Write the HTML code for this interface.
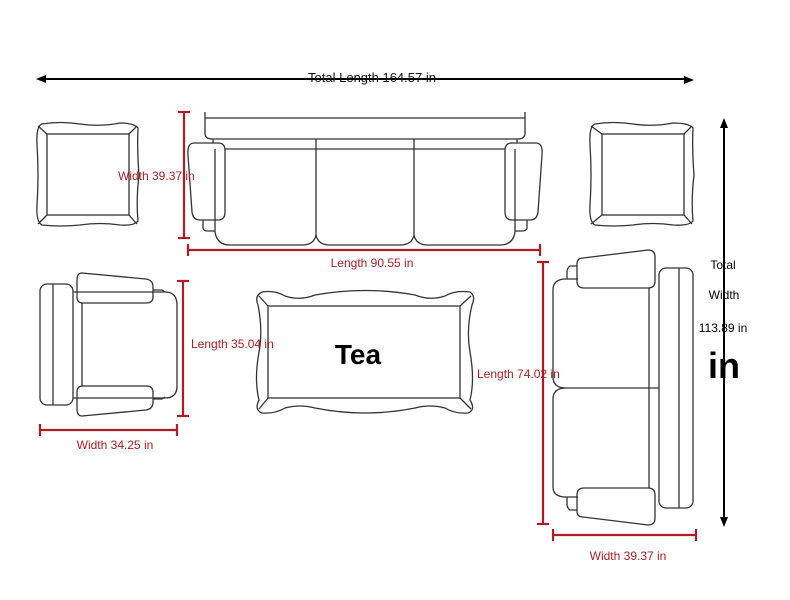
<!DOCTYPE html>
<html><head><meta charset="utf-8"><style>
html,body{margin:0;padding:0;background:#fff;}
svg{display:block;font-family:"Liberation Sans",sans-serif;}
</style></head><body>
<svg width="790" height="600" viewBox="0 0 790 600" xmlns="http://www.w3.org/2000/svg">
<rect width="790" height="600" fill="#fff"/>
<!-- top arrow -->
<line x1="46" y1="79" x2="684" y2="79" stroke="#000" stroke-width="2"/>
<path d="M36,79 L46,75 L46,83 z" fill="#000"/>
<path d="M694,80 L684,76 L684,84 z" fill="#000"/>
<text x="372" y="82" font-size="13" text-anchor="middle" fill="#111">Total Length 164.57 in</text>

<g fill="none" stroke="#333" stroke-width="1.3">
<!-- end tables -->
<path d="M42,124 Q60,121 80,124 Q100,127 120,123 Q134,123 138,128 Q137,150 139,175 Q136,200 138,221 Q134,226 120,225 Q100,222 80,225 Q60,227 42,225 Q36,222 37,205 Q39,175 37,145 Q36,126 42,124 z"/>
<rect x="47" y="134" width="82" height="81"/>
<line x1="38" y1="126" x2="47" y2="134"/><line x1="137" y1="126" x2="129" y2="134"/>
<line x1="38" y1="224" x2="47" y2="215"/><line x1="137" y1="224" x2="129" y2="215"/>
<path d="M595,124 Q613,121 633,124 Q653,127 673,123 Q689,123 693,128 Q692,150 694,175 Q691,200 693,221 Q689,226 673,225 Q653,222 633,225 Q613,227 595,225 Q589,222 590,205 Q592,175 590,145 Q589,126 595,124 z"/>
<rect x="602" y="134" width="82" height="81"/>
<line x1="591" y1="126" x2="602" y2="134"/><line x1="692" y1="126" x2="684" y2="134"/>
<line x1="591" y1="224" x2="602" y2="215"/><line x1="692" y1="224" x2="684" y2="215"/>

<!-- top sofa -->
<path d="M205,112 L205,133 Q205,139 212,139 L518,139 Q525,139 525,133 L525,112"/>
<line x1="205" y1="118" x2="525" y2="118"/>
<line x1="225" y1="149" x2="505" y2="149"/>
<path d="M215,149 L215,232 Q217,245 230,245 L302,245 Q314,245 316,235 Q318,245 330,245 L400,245 Q412,245 414,235 Q416,245 428,245 L500,245 Q513,245 515,232 L515,149"/>
<line x1="316" y1="139" x2="316" y2="235"/><line x1="414" y1="139" x2="414" y2="235"/>
<line x1="213" y1="139" x2="213" y2="143"/><line x1="517" y1="139" x2="517" y2="143"/>
<path d="M194,143 L218,143 Q225,143 225,150 L225,212 Q225,220 218,220 L200,220 Q193,220 192,212 L188,155 Q187,143 194,143 z"/>
<path d="M536,143 L512,143 Q505,143 505,150 L505,212 Q505,220 512,220 L530,220 Q537,220 538,212 L542,155 Q543,143 536,143 z"/>
<path d="M203,220 L203,228 Q203,231 208,231 L215,231"/>
<path d="M527,220 L527,228 Q527,231 522,231 L515,231"/>

<!-- left chair -->
<rect x="40" y="284" width="33" height="121" rx="7"/>
<line x1="53" y1="284" x2="53" y2="405"/>
<path d="M73,292 L165,292 Q177,292 177,305 L177,386 Q177,398 165,398 L73,398"/>
<line x1="82" y1="303" x2="82" y2="386"/>
<path d="M82,273 L146,279 Q153,280 153,287 L153,297 Q153,303 146,303 L83,303 Q77,303 77,297 L77,280 Q77,273 82,273 z"/>
<path d="M82,416 L146,410 Q153,409 153,402 L153,392 Q153,386 146,386 L83,386 Q77,386 77,392 L77,409 Q77,416 82,416 z"/>
<path d="M153,290 L162,290 L165,292"/><path d="M153,399 L162,399 L165,397"/>

<!-- coffee table -->
<path d="M262,292 Q275,290 285,296 Q300,301 315,295 Q365,286 415,295 Q430,301 445,296 Q455,290 470,292 Q476,296 472,305 Q466,330 470,352 Q475,380 470,400 Q476,410 468,413 Q455,414 445,408 Q430,404 415,408 Q365,418 315,408 Q300,404 285,408 Q275,414 262,413 Q254,410 259,400 Q254,380 259,352 Q263,330 258,305 Q254,296 262,292 z"/>
<rect x="268" y="306" width="192" height="92"/>
<line x1="259" y1="296" x2="268" y2="306"/><line x1="471" y1="296" x2="460" y2="306"/>
<line x1="259" y1="409" x2="268" y2="398"/><line x1="471" y1="409" x2="460" y2="398"/>

<!-- right sofa -->
<path d="M659,388 L566,388 Q553,388 553,377 L553,290 Q553,279 566,279 L578,279"/>
<path d="M566,388 Q553,388 553,399 L553,487 Q553,497 566,497 L578,497"/>
<line x1="649" y1="288" x2="649" y2="488"/>
<rect x="659" y="268" width="34" height="240" rx="7"/>
<line x1="679" y1="268" x2="679" y2="508"/>
<path d="M583,258 L648,250 Q655,250 655,257 L655,281 Q655,288 648,288 L584,288 Q577,288 577,281 L577,264 Q577,258 583,258 z"/>
<path d="M583,517 L648,525 Q655,525 655,518 L655,495 Q655,488 648,488 L584,488 Q577,488 577,495 L577,511 Q577,517 583,517 z"/>
<path d="M577,266 L570,266 Q567,268 567,272 L567,279"/>
<path d="M577,510 L570,510 Q567,508 567,504 L567,497"/>
</g>

<!-- red dims -->
<g stroke="#b01c22" stroke-width="2.2" fill="none">
<line x1="184" y1="112" x2="184" y2="238"/><line x1="178" y1="112" x2="190" y2="112"/><line x1="178" y1="238" x2="190" y2="238"/>
<line x1="188" y1="250" x2="540" y2="250"/><line x1="188" y1="244" x2="188" y2="256"/><line x1="540" y1="244" x2="540" y2="256"/>
<line x1="183" y1="281" x2="183" y2="416"/><line x1="177" y1="281" x2="189" y2="281"/><line x1="177" y1="416" x2="189" y2="416"/>
<line x1="40" y1="430" x2="177" y2="430"/><line x1="40" y1="424" x2="40" y2="436"/><line x1="177" y1="424" x2="177" y2="436"/>
<line x1="543" y1="262" x2="543" y2="524"/><line x1="537" y1="262" x2="549" y2="262"/><line x1="537" y1="524" x2="549" y2="524"/>
<line x1="553" y1="535" x2="696" y2="535"/><line x1="553" y1="529" x2="553" y2="541"/><line x1="696" y1="529" x2="696" y2="541"/>
</g>
<g fill="#b01c22" font-size="12">
<text x="118" y="180">Width 39.37 in</text>
<text x="372" y="267" text-anchor="middle">Length 90.55 in</text>
<text x="191" y="348">Length 35.04 in</text>
<text x="115" y="449" text-anchor="middle">Width 34.25 in</text>
<text x="477" y="378">Length 74.02 in</text>
<text x="628" y="560" text-anchor="middle">Width 39.37 in</text>
</g>
<text x="358" y="364" font-size="28" font-weight="bold" text-anchor="middle" fill="#000">Tea</text>

<!-- right vertical arrow -->
<line x1="724" y1="128" x2="724" y2="518" stroke="#000" stroke-width="2"/>
<path d="M724,118 L720,128 L728,128 z" fill="#000"/>
<path d="M724,527 L720,517 L728,517 z" fill="#000"/>
<g font-size="12" fill="#000" text-anchor="middle">
<text x="723" y="269">Total</text>
<text x="724" y="299">Width</text>
<text x="723" y="332">113.89 in</text>
</g>
<text x="724" y="378" font-size="36" font-weight="bold" text-anchor="middle" fill="#000">in</text>
</svg>
</body></html>
